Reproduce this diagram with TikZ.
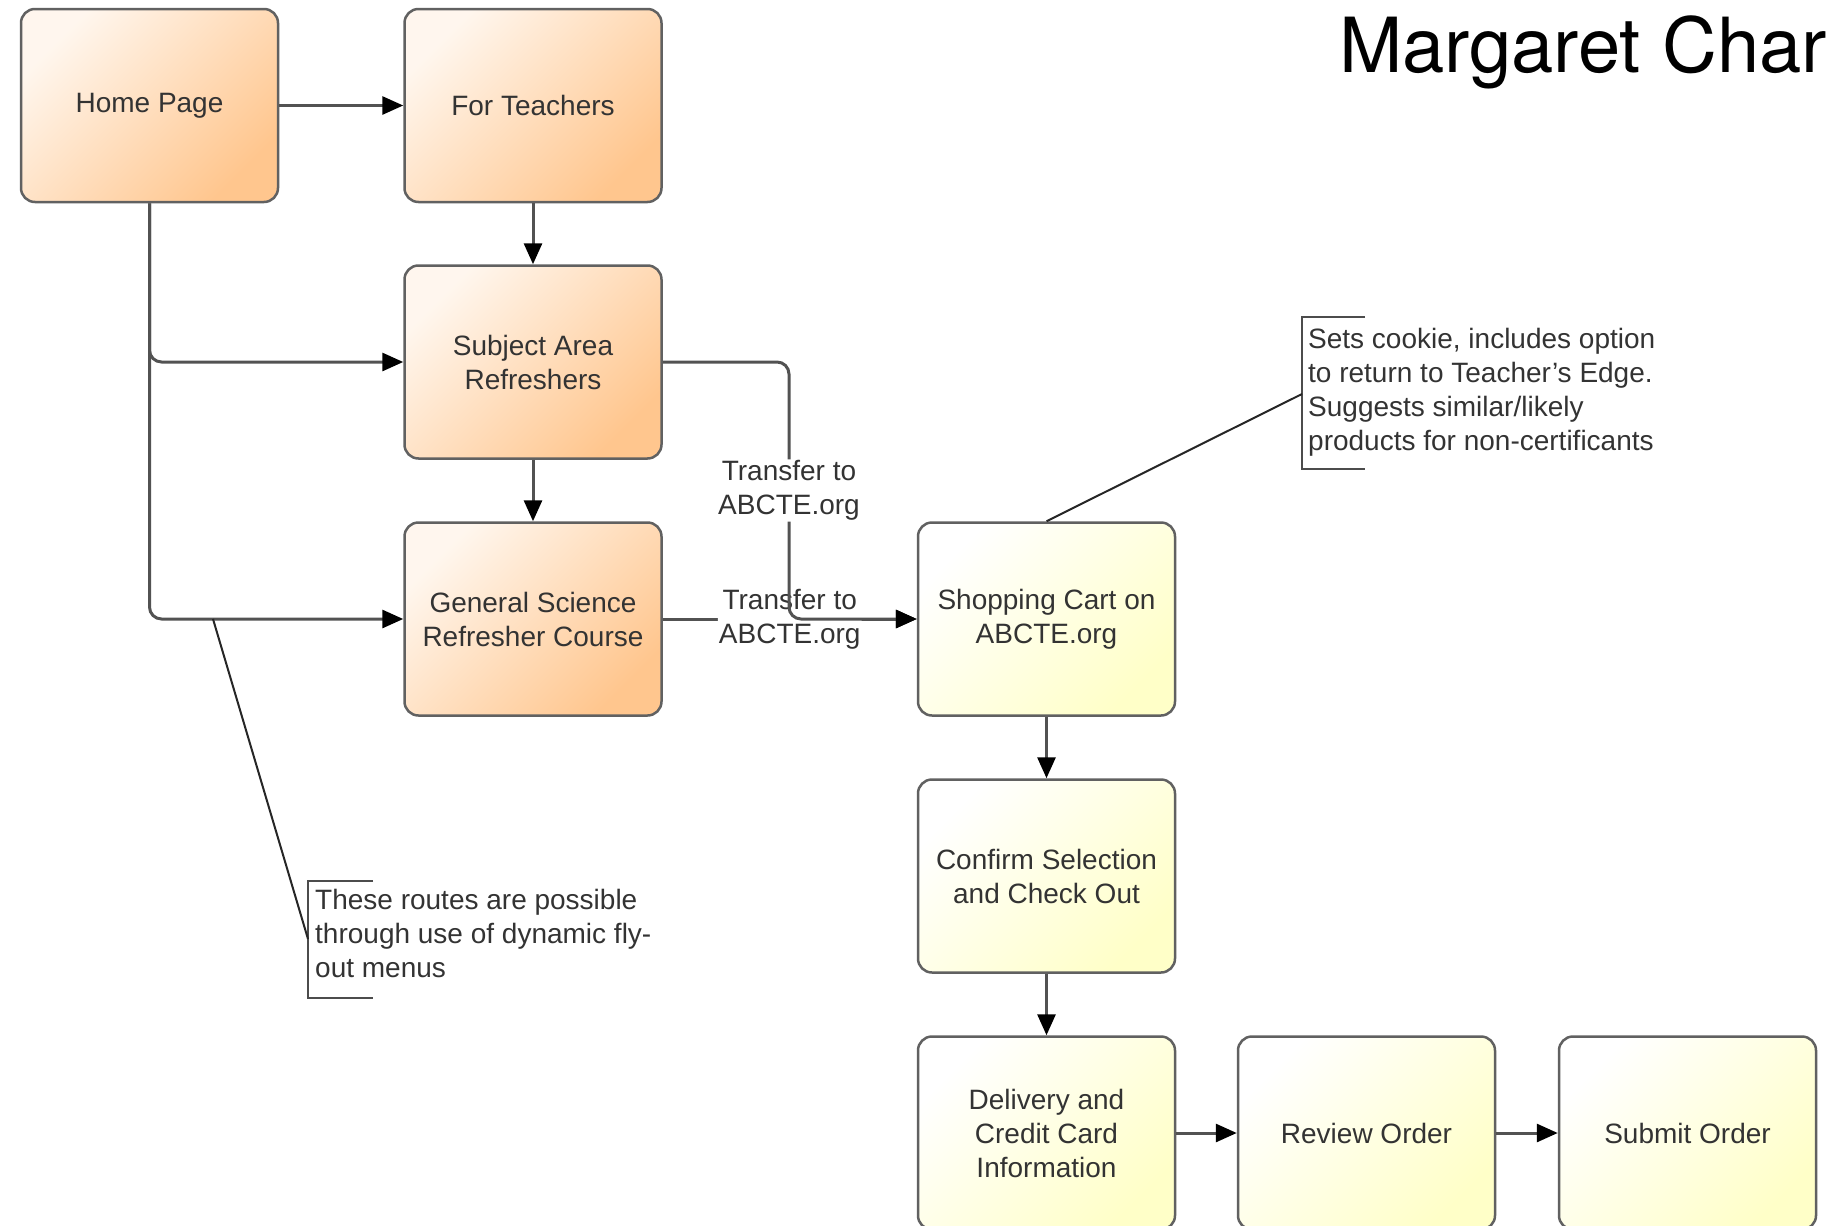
\documentclass[tikz,border=0pt]{standalone}
\usepackage{fontspec}
\setmainfont{Liberation Sans}
\newfontfamily\titlefont{TeX Gyre Heros}
\usetikzlibrary{arrows.meta}

\definecolor{peach}{RGB}{255,198,142}
\definecolor{cream}{RGB}{255,255,200}
\definecolor{ink}{RGB}{51,51,51}

\tikzset{
  page/.style={draw=black!62, line width=2.5pt, rounded corners=14pt,
    minimum width=257pt, minimum height=193pt, align=center, text=ink,
    font=\fontsize{28}{34}\selectfont},
  teachpage/.style={page, top color=peach!15!white, middle color=peach!88!white,
    bottom color=peach, shading angle=45},
  shoppage/.style={page, top color=white, middle color=cream!85!white,
    bottom color=cream, shading angle=45},
  link/.style={draw=black!68, line width=3pt, rounded corners=12pt},
  go/.style={link, -{Triangle[length=21pt,width=18pt,color=black]}},
  hop/.style={fill=white, inner sep=1pt, align=center, text=ink,
    font=\fontsize{28}{34}\selectfont},
  note/.style={anchor=north west, inner sep=0pt, align=left, text=ink,
    font=\fontsize{28}{34}\selectfont},
  brace/.style={draw=black!70, line width=2.5pt},
  lead/.style={draw=black!85, line width=2pt},
}

\begin{document}
\begin{tikzpicture}[x=1pt, y=-1pt]
\useasboundingbox (0,0) rectangle (1829,1226);
\node[teachpage] (home) at (149.5,105.5) {Home Page};
\node[teachpage] (teachers) at (533,105.5) {For Teachers};
\node[teachpage] (subject) at (533,362) {Subject Area\\Refreshers};
\node[teachpage] (gensci) at (533,619) {General Science\\Refresher Course};
\node[shoppage] (cart) at (1046.5,619) {Shopping Cart on\\ABCTE.org};
\node[shoppage] (confirm) at (1046.5,876) {Confirm Selection\\and Check Out};
\node[shoppage] (delivery) at (1046.5,1133) {Delivery and\\Credit Card\\Information};
\node[shoppage] (review) at (1366.5,1133) {Review Order};
\node[shoppage] (submit) at (1687.5,1133) {Submit Order};

\draw[go] (home) -- (teachers);
\draw[go] (teachers) -- (subject);
\draw[go] (subject) -- (gensci);
\draw[go] (home.south) |- (subject.west);
\draw[go] (home.south) |- (gensci.west);
\draw[go] (gensci) -- node[hop]{Transfer to\\ABCTE.org} (cart);
\coordinate (bend) at (789,362);
\draw[go] (subject.east) -- (bend) |- node[hop,pos=.25]{Transfer to\\ABCTE.org} (cart.west);
\draw[go] (cart) -- (confirm);
\draw[go] (confirm) -- (delivery);
\draw[go] (delivery) -- (review);
\draw[go] (review) -- (submit);

\node[note] (cookienote) at (1308,328) {Sets cookie, includes option\\to return to Teacher's Edge.\\Suggests similar/likely\\products for non-certificants};
\draw[brace] (1365,317) -- (1302,317) -- (1302,469) -- (1365,469);
\coordinate (cookietip) at (1302,394);
\draw[lead] (cart.north) -- (cookietip);

\node[note] (menunote) at (315,889) {These routes are possible\\through use of dynamic fly-\\out menus};
\draw[brace] (373,881) -- (308,881) -- (308,998) -- (373,998);
\coordinate (menufoot) at (213,619);
\coordinate (menutip) at (308,939);
\draw[lead] (menufoot) -- (menutip);

\node[anchor=base west, inner sep=0pt, font=\titlefont\fontsize{76}{80}\selectfont] (title) at (1339,72) {Margaret Char};
\end{tikzpicture}
\end{document}
